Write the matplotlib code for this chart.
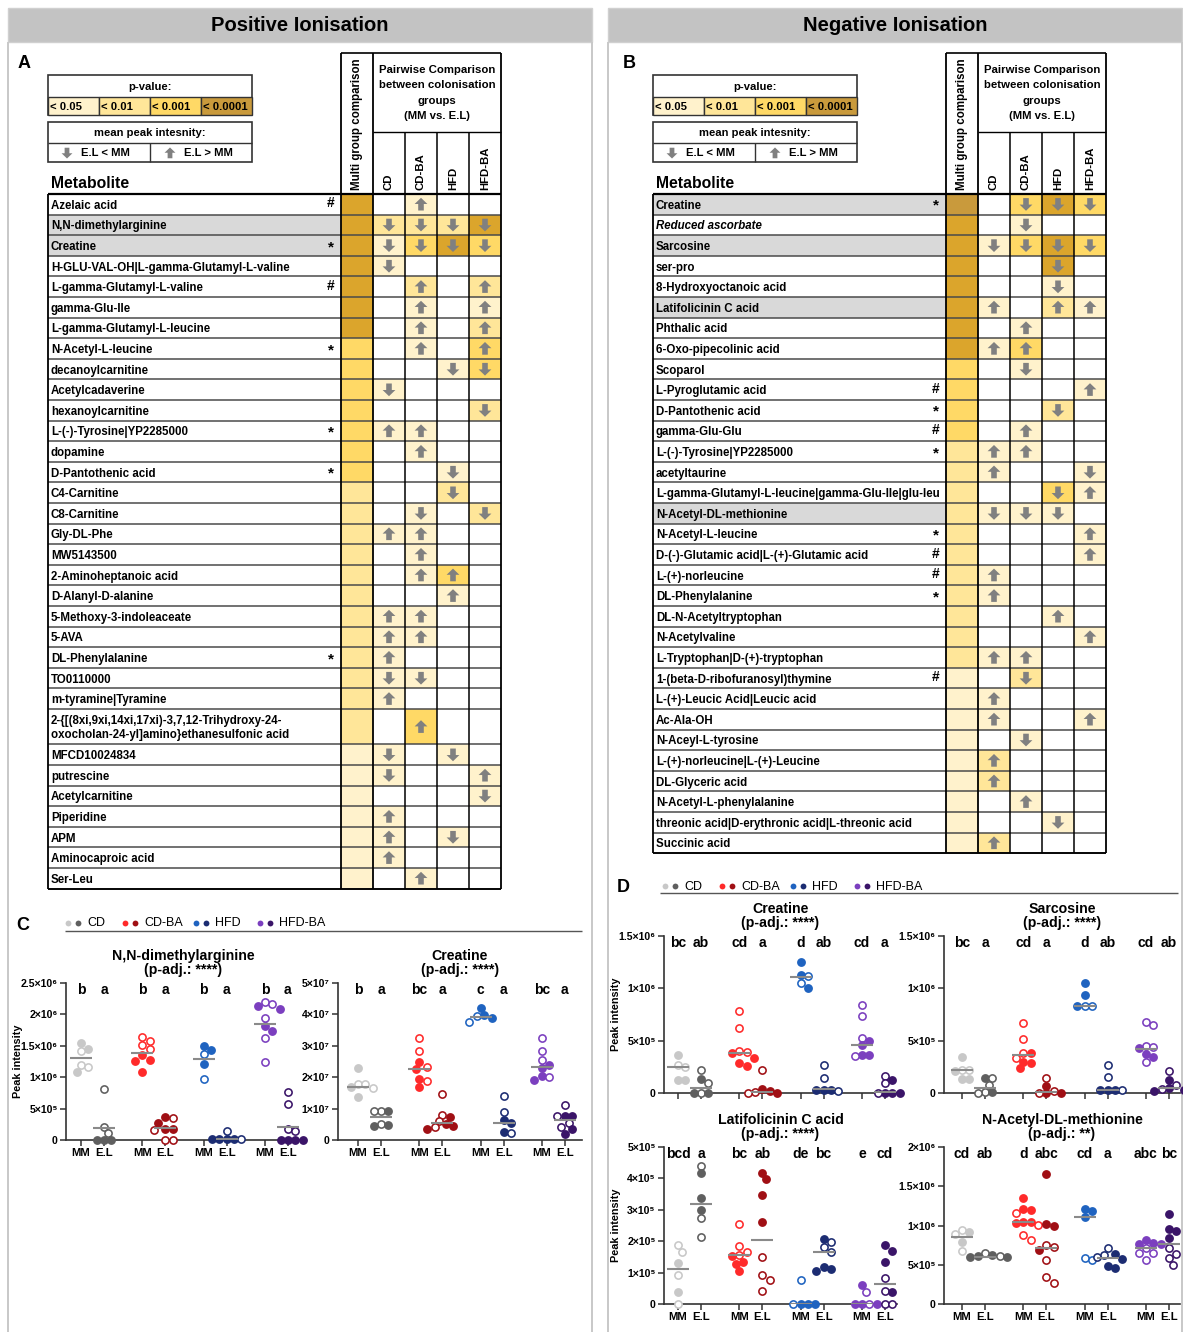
import numpy as np
import matplotlib
matplotlib.use("Agg")
import matplotlib.pyplot as plt
from matplotlib.patches import Rectangle, Polygon
from matplotlib.transforms import blended_transform_factory

plt.rcParams['font.family'] = ['Liberation Sans', 'DejaVu Sans']

W, H = 1183, 1332

# --- Table data ---------------------------------------------------------------
GROUPS = ["CD", "CD-BA", "HFD", "HFD-BA"]
P_LABELS = ["< 0.05", "< 0.01", "< 0.001", "< 0.0001"]

POS_NAMES = [
    "Azelaic acid", "N,N-dimethylarginine", "Creatine",
    "H-GLU-VAL-OH|L-gamma-Glutamyl-L-valine", "L-gamma-Glutamyl-L-valine",
    "gamma-Glu-Ile", "L-gamma-Glutamyl-L-leucine", "N-Acetyl-L-leucine",
    "decanoylcarnitine", "Acetylcadaverine", "hexanoylcarnitine",
    "L-(-)-Tyrosine|YP2285000", "dopamine", "D-Pantothenic acid",
    "C4-Carnitine", "C8-Carnitine", "Gly-DL-Phe", "MW5143500",
    "2-Aminoheptanoic acid", "D-Alanyl-D-alanine", "5-Methoxy-3-indoleaceate",
    "5-AVA", "DL-Phenylalanine", "TO0110000", "m-tyramine|Tyramine",
    "2-{[(8xi,9xi,14xi,17xi)-3,7,12-Trihydroxy-24-\noxocholan-24-yl]amino}ethanesulfonic acid",
    "MFCD10024834", "putrescine", "Acetylcarnitine", "Piperidine", "APM",
    "Aminocaproic acid", "Ser-Leu",
]
POS_MARKS = ["#", "", "*", "", "#", "", "", "*", "", "", "", "*", "", "*",
             "", "", "", "", "", "", "", "", "*", "", "", "", "", "", "", "",
             "", "", ""]
POS_GRAY = [1, 2]
POS_TALL = [25]
POS_MULTI = [4] * 7 + [3] * 7 + [2] * 12 + [1] * 7
POS_PAIRS = [
    "- u1 - -", "d2 d2 d2 d4", "d1 d3 d4 d3", "d1 - - -", "- u2 - u2",
    "- u1 - u1", "- u1 - u2", "- u1 - u3", "- - d1 d3", "d1 - - -",
    "- - - d2", "u1 u1 - -", "- u1 - -", "- - d1 -", "- - d2 -",
    "- d1 - d2", "u1 u1 - -", "- u1 - -", "- u1 u3 -", "- - u1 -",
    "u1 u1 - -", "u1 u1 - -", "u1 - - -", "d1 d1 - -", "u1 - - -",
    "- u3 - -", "d1 - d1 -", "d1 - - u1", "- - - d1", "u1 - - -",
    "u1 - d1 -", "u1 - - -", "- u1 - -",
]

NEG_NAMES = [
    "Creatine", "Reduced ascorbate", "Sarcosine", "ser-pro",
    "8-Hydroxyoctanoic acid", "Latifolicinin C acid", "Phthalic acid",
    "6-Oxo-pipecolinic acid", "Scoparol", "L-Pyroglutamic acid",
    "D-Pantothenic acid", "gamma-Glu-Glu", "L-(-)-Tyrosine|YP2285000",
    "acetyltaurine", "L-gamma-Glutamyl-L-leucine|gamma-Glu-Ile|glu-leu",
    "N-Acetyl-DL-methionine", "N-Acetyl-L-leucine",
    "D-(-)-Glutamic acid|L-(+)-Glutamic acid", "L-(+)-norleucine",
    "DL-Phenylalanine", "DL-N-Acetyltryptophan", "N-Acetylvaline",
    "L-Tryptophan|D-(+)-tryptophan", "1-(beta-D-ribofuranosyl)thymine",
    "L-(+)-Leucic Acid|Leucic acid", "Ac-Ala-OH", "N-Aceyl-L-tyrosine",
    "L-(+)-norleucine|L-(+)-Leucine", "DL-Glyceric acid",
    "N-Acetyl-L-phenylalanine",
    "threonic acid|D-erythronic acid|L-threonic acid", "Succinic acid",
]
NEG_MARKS = ["*", "", "", "", "", "", "", "", "", "#", "*", "#", "*", "", "",
             "", "*", "#", "#", "*", "", "", "", "#", "", "", "", "", "", "",
             "", ""]
NEG_GRAY = [0, 2, 5, 15]
NEG_ITALIC = [1]
NEG_MULTI = [5] + [4] * 7 + [3] * 4 + [2] * 11 + [1] * 9
NEG_PAIRS = [
    "- d3 d4 d3", "- d1 - -", "d1 d3 d4 d3", "- - d4 -", "- - d1 -",
    "u1 - u2 u1", "- u1 - -", "u1 u3 - -", "- d1 - -", "- - - u1",
    "- - d2 -", "- u1 - -", "u1 u1 - -", "u1 - - d1", "- - d3 u1",
    "d1 d1 d1 -", "- - - u1", "- - - u1", "u1 - - -", "u1 - - -",
    "- - u1 -", "- - - u1", "u1 u1 - -", "- d2 - -", "u1 - - -",
    "u1 - - u1", "- d1 - -", "u2 - - -", "u2 - - -", "- u1 - -",
    "- - d1 -", "u2 - - -",
]

# --- Scatter data (order: CD MM, CD E.L, CD-BA MM, CD-BA E.L, HFD MM, HFD E.L, HFD-BA MM, HFD-BA E.L)
NNDMA_VALUES = [  # x1e6
    [1.54, 1.45, 1.42, 1.20, 1.17, 1.09],
    [0.82, 0.21, 0.11, 0.0, 0.0, 0.0],
    [1.64, 1.57, 1.52, 1.45, 1.35, 1.27, 1.26, 1.09],
    [0.36, 0.35, 0.27, 0.18, 0.17, 0.16, 0.0, 0.0],
    [1.49, 1.44, 1.37, 1.21, 0.97],
    [0.15, 0.01, 0.01, 0.01, 0.01, 0.01],
    [2.20, 2.16, 2.13, 2.09, 1.95, 1.82, 1.73, 1.62, 1.24],
    [0.77, 0.57, 0.18, 0.14, 0.0, 0.0, 0.0, 0.0],
]
NNDMA_FILLED = [
    [1, 1, 0, 0, 0, 1], [0, 0, 0, 1, 1, 1], [0, 0, 0, 0, 1, 1, 1, 1],
    [1, 0, 1, 1, 1, 0, 0, 0], [1, 1, 0, 1, 0], [0, 1, 1, 1, 0, 1],
    [0, 0, 1, 1, 0, 1, 1, 0, 0], [0, 0, 0, 0, 1, 1, 1, 1],
]
NNDMA_CENTER = [1.31, 0.19, 1.39, 0.19, 1.29, 0.01, 1.84, 0.21]
NNDMA_LETTERS = ["b", "a", "b", "a", "b", "a", "b", "a"]

CREAT_POS_VALUES = [  # x1e7
    [2.30, 1.78, 1.78, 1.70, 1.66, 1.37],
    [0.93, 0.93, 0.93, 0.50, 0.47, 0.46],
    [3.25, 2.85, 2.47, 2.33, 2.25, 1.95, 1.88, 1.70],
    [1.47, 0.81, 0.73, 0.60, 0.52, 0.45, 0.40, 0.35],
    [4.20, 3.97, 3.95, 3.88, 3.77],
    [1.40, 0.90, 0.63, 0.55, 0.27, 0.22],
    [3.25, 2.85, 2.55, 2.40, 2.30, 2.05, 2.02, 1.92],
    [1.12, 0.75, 0.75, 0.75, 0.55, 0.40, 0.35, 0.19],
]
CREAT_POS_FILLED = [
    [1, 0, 0, 1, 0, 1], [0, 1, 0, 0, 1, 1], [0, 0, 1, 0, 1, 1, 0, 1],
    [0, 0, 1, 0, 1, 1, 0, 1], [1, 1, 0, 1, 0], [0, 0, 1, 1, 1, 0],
    [0, 0, 0, 1, 1, 1, 0, 1], [0, 1, 1, 0, 0, 0, 1, 1],
]
CREAT_POS_CENTER = [1.68, 0.72, 2.27, 0.53, 3.93, 0.55, 2.32, 0.65]
CREAT_POS_LETTERS = ["b", "a", "bc", "a", "c", "a", "bc", "a"]

CREAT_NEG_VALUES = [  # x1e6
    [0.36, 0.27, 0.25, 0.12, 0.12],
    [0.215, 0.13, 0.10, 0.0, 0.0, 0.0],
    [0.78, 0.62, 0.40, 0.39, 0.38, 0.335, 0.29, 0.255],
    [0.215, 0.04, 0.02, 0.01, 0.0, 0.0],
    [1.255, 1.13, 1.115, 1.055, 1.0],
    [0.27, 0.14, 0.03, 0.03, 0.03, 0.02],
    [0.84, 0.74, 0.53, 0.50, 0.46, 0.365, 0.36, 0.355],
    [0.165, 0.12, 0.095, 0.0, 0.0, 0.0, 0.0],
]
CREAT_NEG_FILLED = [
    [1, 0, 0, 1, 1], [0, 1, 0, 0, 1, 1], [0, 0, 0, 0, 1, 1, 1, 1],
    [0, 1, 1, 0, 1, 0], [1, 1, 0, 0, 1], [0, 0, 1, 1, 1, 0],
    [0, 0, 0, 1, 1, 1, 1, 0], [0, 1, 0, 1, 1, 0, 1],
]
CREAT_NEG_CENTER = [0.245, 0.05, 0.38, 0.01, 1.11, 0.035, 0.455, 0.005]
CREAT_NEG_LETTERS = ["bc", "ab", "cd", "a", "d", "ab", "cd", "a"]

SARC_VALUES = [  # x1e6
    [0.34, 0.22, 0.22, 0.21, 0.13, 0.13],
    [0.14, 0.14, 0.08, 0.01, 0.01, 0.0],
    [0.67, 0.52, 0.38, 0.38, 0.335, 0.30, 0.285, 0.24],
    [0.14, 0.07, 0.02, 0.0, 0.0, 0.0],
    [1.05, 0.94, 0.835, 0.835, 0.835],
    [0.27, 0.15, 0.03, 0.03, 0.03, 0.03],
    [0.68, 0.65, 0.45, 0.44, 0.43, 0.37, 0.34, 0.30],
    [0.21, 0.12, 0.08, 0.05, 0.04, 0.03, 0.02],
]
SARC_FILLED = [
    [1, 0, 0, 1, 1, 1], [1, 0, 0, 0, 1, 0], [0, 0, 0, 1, 0, 1, 1, 1],
    [0, 1, 0, 1, 0, 1], [1, 1, 0, 0, 1], [0, 0, 1, 1, 1, 0],
    [0, 0, 0, 0, 1, 1, 1, 0], [0, 1, 0, 1, 0, 1, 1],
]
SARC_CENTER = [0.22, 0.045, 0.36, 0.005, 0.835, 0.03, 0.42, 0.045]
SARC_LETTERS = ["bc", "a", "cd", "a", "d", "ab", "cd", "ab"]

LATI_VALUES = [  # x1e5
    [1.88, 1.65, 1.31, 0.92, 0.37, 0.0],
    [4.41, 4.17, 3.37, 2.98, 2.73, 2.12],
    [2.56, 1.85, 1.67, 1.56, 1.54, 1.35, 1.28, 1.04],
    [4.17, 3.97, 3.46, 2.60, 1.49, 0.92, 0.76, 0.40],
    [0.78, 0.0, 0.0, 0.0, 0.0],
    [2.06, 1.96, 1.81, 1.67, 1.19, 1.13, 1.04],
    [0.59, 0.37, 0.0, 0.0, 0.0, 0.0],
    [1.88, 1.70, 1.35, 0.84, 0.41, 0.37, 0.0, 0.0],
]
LATI_FILLED = [
    [0, 0, 1, 0, 1, 0], [0, 1, 1, 1, 0, 0], [0, 0, 0, 0, 1, 1, 1, 1],
    [1, 1, 1, 1, 0, 0, 0, 0], [0, 1, 1, 0, 1], [1, 0, 0, 0, 1, 1, 1],
    [1, 0, 1, 0, 1, 1], [1, 1, 1, 0, 0, 1, 0, 0],
]
LATI_CENTER = [1.12, 3.18, 1.55, 2.05, 0.0, 1.65, 0.0, 0.63]
LATI_LETTERS = ["bcd", "a", "bc", "ab", "de", "bc", "e", "cd"]

NACM_VALUES = [  # x1e6
    [0.94, 0.92, 0.89, 0.79, 0.68],
    [0.65, 0.62, 0.61, 0.61, 0.60, 0.60],
    [1.345, 1.21, 1.20, 1.16, 1.05, 1.04, 1.03, 1.01, 0.88, 0.81],
    [1.65, 1.025, 1.0, 0.75, 0.73, 0.69, 0.555, 0.345, 0.27],
    [1.205, 1.18, 1.11, 0.585, 0.555],
    [0.714, 0.64, 0.63, 0.60, 0.57, 0.48, 0.455],
    [0.81, 0.78, 0.765, 0.76, 0.71, 0.65, 0.65, 0.56],
    [1.15, 0.96, 0.93, 0.84, 0.71, 0.64, 0.59, 0.50],
]
NACM_FILLED = [
    [0, 1, 0, 1, 0], [0, 1, 1, 0, 1, 1], [1, 1, 1, 0, 1, 1, 1, 0, 0, 0],
    [1, 1, 1, 0, 0, 1, 0, 0, 0], [1, 1, 1, 0, 0], [0, 1, 0, 0, 1, 1, 1],
    [1, 1, 1, 1, 0, 0, 0, 0], [1, 1, 1, 1, 0, 0, 0, 0],
]
NACM_CENTER = [0.857, 0.605, 1.04, 0.714, 1.11, 0.585, 0.71, 0.77]
NACM_LETTERS = ["cd", "ab", "d", "abc", "cd", "a", "abc", "bc"]

# --- Styling -----------------------------------------------------------------
LEVEL_COLORS = {1: "#fff2cc", 2: "#ffe699", 3: "#ffd966", 4: "#dba52c", 5: "#c99a3c"}
ARROW_GRAY = "#808080"
PAIR_COLORS = [("#c8c8c8", "#5f5f5f"), ("#ff2a2a", "#a00f14"),
               ("#1f63c0", "#1c2c72"), ("#7b3fbf", "#3a1468")]
ROW_H = 20.6
TABLE_TOP = 194
FS_TAB = 8.3
SUP = str.maketrans("0123456789", "⁰¹²³⁴⁵⁶⁷⁸⁹")

fig = plt.figure(figsize=(W / 100, H / 100), dpi=100)
ax = fig.add_axes([0, 0, 1, 1])
ax.set_xlim(0, W)
ax.set_ylim(H, 0)
ax.axis("off")


def line(xs, ys, color="black", lw=1.0, z=5):
    ax.plot(xs, ys, color=color, lw=lw, zorder=z, solid_capstyle="butt")


def arrow(cx, cy, up, s=1.0):
    d = -1 if up else 1
    tip, base, tail = cy + d * 6.5 * s, cy + d * 0.3 * s, cy - d * 6.2 * s
    hw, sw = 6.4 * s, 2.8 * s
    pts = [(cx, tip), (cx + hw, base), (cx + sw, base), (cx + sw, tail),
           (cx - sw, tail), (cx - sw, base), (cx - hw, base)]
    ax.add_patch(Polygon(pts, closed=True, fc=ARROW_GRAY, ec="none", zorder=4,
                         joinstyle="round"))


def draw_header(x0, name_w, letter):
    e1 = x0 + name_w
    e2, e6 = e1 + 32, e1 + 160
    ax.text(x0 - 30, 63, letter, fontsize=13, weight="bold", va="center")
    # p-value legend
    bx = x0
    ax.add_patch(Rectangle((bx, 75), 204, 40, fc="white", ec="#333333", lw=1.2, zorder=3))
    ax.text(bx + 102, 86.5, "p-value:", ha="center", va="center", fontsize=8.1, weight="bold", zorder=6)
    for j, lab in enumerate(P_LABELS):
        cx = bx + 51 * j
        ax.add_patch(Rectangle((cx, 97), 51, 18, fc=LEVEL_COLORS[j + 1 if j < 3 else 5],
                               ec="#333333", lw=1.0, zorder=3))
        ax.text(cx + 2, 106.5, lab, va="center", fontsize=8.1, weight="bold", zorder=6)
    # mean peak intensity legend
    ax.add_patch(Rectangle((bx, 122), 204, 40, fc="white", ec="#333333", lw=1.2, zorder=3))
    line([bx, bx + 204], [143, 143], "#333333", 1.0)
    line([bx + 102, bx + 102], [143, 162], "#333333", 1.0)
    ax.text(bx + 102, 133, "mean peak intesnity:", ha="center", va="center", fontsize=8.1, weight="bold", zorder=6)
    arrow(bx + 19, 153, False, 0.85)
    ax.text(bx + 33, 153.5, "E.L < MM", va="center", fontsize=8.1, weight="bold", zorder=6)
    arrow(bx + 122, 153, True, 0.85)
    ax.text(bx + 136, 153.5, "E.L > MM", va="center", fontsize=8.1, weight="bold", zorder=6)

    ax.text(x0 + 3, 184, "Metabolite", fontsize=11.3, weight="bold", va="center")
    line([e1, e6], [53, 53], lw=1.2)
    line([e2, e6], [132, 132], lw=1.0)
    ax.text(e1 + 16, 190, "Multi group comparison", rotation=90, ha="center",
            va="bottom", fontsize=8.3, weight="bold")
    ax.text((e2 + e6) / 2, 93, "Pairwise Comparison\nbetween colonisation\ngroups\n(MM vs. E.L)",
            ha="center", va="center", fontsize=8.2, weight="bold", linespacing=1.68)
    for j, g in enumerate(GROUPS):
        ax.text(e2 + 16 + 32 * j, 190, g, rotation=90, ha="center", va="bottom",
                fontsize=8.2, weight="bold")


def draw_table(x0, name_w, names, marks, gray, italic, multi, pairs, tall):
    e1 = x0 + name_w
    e2, e6 = e1 + 32, e1 + 160
    y = TABLE_TOP
    for i, name in enumerate(names):
        h = ROW_H * (1.72 if i in tall else 1.0)
        yc = y + h / 2
        if i in gray:
            ax.add_patch(Rectangle((x0, y), name_w, h, fc="#d9d9d9", ec="none", zorder=1))
        ax.add_patch(Rectangle((e1, y), 32, h, fc=LEVEL_COLORS[multi[i]], ec="none", zorder=1))
        for j, cell in enumerate(pairs[i].split()):
            if cell == "-":
                continue
            cx0 = e2 + 32 * j
            ax.add_patch(Rectangle((cx0, y), 32, h, fc=LEVEL_COLORS[int(cell[1])], ec="none", zorder=1))
            arrow(cx0 + 16, yc, cell[0] == "u")
        ax.text(x0 + 3, yc + 1.5, name, va="center", fontsize=FS_TAB, weight="bold",
                style="italic" if i in italic else "normal", linespacing=1.2, zorder=6)
        if marks[i]:
            ax.text(x0 + name_w - 10, yc - (1 if marks[i] == "#" else -1.5), marks[i], ha="center",
                    va="center", fontsize=10 if marks[i] == "#" else 11, weight="bold", zorder=6)
        y += h
        line([x0, e6], [y, y], "#4a4a4a", 1.1)
    bottom = y
    line([x0, e6], [TABLE_TOP, TABLE_TOP], lw=1.6)
    line([x0, x0], [TABLE_TOP, bottom], lw=1.3)
    for xv in (e1, e2, e6):
        line([xv, xv], [53, bottom], lw=1.3)
    for j in (1, 2, 3):
        line([e2 + 32 * j, e2 + 32 * j], [132, bottom], lw=1.1)
    line([x0, e6], [bottom, bottom], lw=1.3)


# --- Title bands & panel frames ----------------------------------------------
for (xa, xb, title) in [(8, 592, "Positive Ionisation"), (608, 1182, "Negative Ionisation")]:
    ax.add_patch(Rectangle((xa, 8), xb - xa, 34, fc="#c3c3c3", ec="#d0d0d0", lw=1, zorder=1))
    ax.text((xa + xb) / 2, 25.5, title, ha="center", va="center", fontsize=14.5, weight="bold")
    line([xa, xa], [42, H], "#c8c8c8", 1.4)
    line([xb, xb], [42, H], "#c8c8c8", 1.4)

draw_header(48, 293, "A")
draw_table(48, 293, POS_NAMES, POS_MARKS, POS_GRAY, [], POS_MULTI, POS_PAIRS, POS_TALL)
draw_header(653, 293, "B")
draw_table(653, 293, NEG_NAMES, NEG_MARKS, NEG_GRAY, NEG_ITALIC, NEG_MULTI, NEG_PAIRS, [])


# --- Scatter panels ----------------------------------------------------------
def sci_label(v):
    if v == 0:
        return "0"
    e = int(np.floor(np.log10(v) + 1e-9))
    m = v / 10 ** e
    return f"{m:g}×10" + str(e).translate(SUP)


def swarm(vals, ppu, d=7.4):
    placed, offs = [], []
    cands = sorted({k * d / 2 for k in range(-10, 11)}, key=lambda o: (abs(o), -o))
    for v in vals:
        py = v * ppu
        for o in cands:
            if all((o - px) ** 2 + (py - qy) ** 2 >= (d * 0.98) ** 2 for px, qy in placed):
                break
        placed.append((o, py))
        offs.append(o)
    return offs


def scatter_panel(left, right, y0, ytop, first, values, filled, centers, letters,
                  scale, top, tick_step, title, xlabels=True, ylabel=False):
    fax = fig.add_axes([left / W, 1 - y0 / H, (right - left) / W, (y0 - ytop) / H])
    unit, step = 23.0, 61.3 / 23.0
    fax.set_xlim((left - first) / unit, (right - first) / unit)
    fax.set_ylim(0, top)
    ppu = (y0 - ytop) / top
    xs = []
    tr = blended_transform_factory(fax.transData, fax.transAxes)
    for gi in range(8):
        g, k = divmod(gi, 2)
        xc = g * step + k
        xs.append(xc)
        color = PAIR_COLORS[g][k]
        for v, f, o in zip(values[gi], filled[gi], swarm(values[gi], ppu)):
            fax.plot(xc + o / unit, v, "o", ms=5.2, mfc=color if f else "white",
                     mec=color, mew=1.15, clip_on=False, zorder=3)
        fax.plot([xc - 0.48, xc + 0.48], [centers[gi]] * 2, color="#8a8a8a", lw=1.5,
                 zorder=4, solid_capstyle="butt")
        fax.text(xc, 1 - 7 / (y0 - ytop), letters[gi], transform=tr, ha="center",
                 va="center", fontsize=10, weight="bold")
    ticks = np.arange(0, top + tick_step / 2, tick_step)
    fax.set_yticks(ticks)
    fax.set_yticklabels([sci_label(t * scale) for t in ticks], fontsize=7.6, weight="bold")
    fax.set_xticks(xs)
    fax.set_xticklabels(["MM", "E.L"] * 4 if xlabels else [""] * 8, fontsize=8.2, weight="bold")
    for s in ("top", "right"):
        fax.spines[s].set_visible(False)
    for s in ("left", "bottom"):
        fax.spines[s].set_linewidth(1.2)
        fax.spines[s].set_color("#333333")
    fax.tick_params(length=4, width=1.1, color="#333333", pad=2)
    fax.patch.set_alpha(0)
    fax.text(0.5, 1 + 6 / (y0 - ytop), title, transform=fax.transAxes, ha="center",
             va="bottom", fontsize=10.2, weight="bold", linespacing=1.0)
    if ylabel:
        ax.text(left - 48, (y0 + ytop) / 2, "Peak intensity", rotation=90, ha="center",
                va="center", fontsize=7.8, weight="bold")
    return fax


def legend_row(x, y, gaps):
    for (ca, cb), g, lab in zip(PAIR_COLORS, gaps, GROUPS):
        ax.plot(x, y, "o", ms=4.2, color=ca, mec="none")
        ax.plot(x + 10, y, "o", ms=4.2, color=cb, mec="none")
        ax.text(x + 19, y + 0.5, lab, va="center", fontsize=9)
        x += g


ax.text(16, 925, "C", fontsize=13, weight="bold", va="center")
legend_row(68, 923, [57, 71, 64, 0])
line([65, 582], [931, 931], "#555555", 1.0)
ax.text(617, 888, "D", fontsize=13, weight="bold", va="center")
legend_row(665, 886, [57, 71, 64, 0])
line([660, 1178], [893, 893], "#555555", 1.0)

scatter_panel(66, 300, 1140, 983, 81, NNDMA_VALUES, NNDMA_FILLED, NNDMA_CENTER,
              NNDMA_LETTERS, 1e6, 2.5, 0.5, "N,N-dimethylarginine\n(p-adj.: ****)", ylabel=True)
scatter_panel(338, 582, 1140, 983, 358, CREAT_POS_VALUES, CREAT_POS_FILLED, CREAT_POS_CENTER,
              CREAT_POS_LETTERS, 1e7, 5, 1, "Creatine\n(p-adj.: ****)")
scatter_panel(664, 897, 1093, 936, 678, CREAT_NEG_VALUES, CREAT_NEG_FILLED, CREAT_NEG_CENTER,
              CREAT_NEG_LETTERS, 1e6, 1.5, 0.5, "Creatine\n(p-adj.: ****)", xlabels=False, ylabel=True)
scatter_panel(944, 1180, 1093, 936, 962, SARC_VALUES, SARC_FILLED, SARC_CENTER,
              SARC_LETTERS, 1e6, 1.5, 0.5, "Sarcosine\n(p-adj.: ****)", xlabels=False)
scatter_panel(664, 897, 1304, 1147, 678, LATI_VALUES, LATI_FILLED, LATI_CENTER,
              LATI_LETTERS, 1e5, 5, 1, "Latifolicinin C acid\n(p-adj.: ****)", ylabel=True)
scatter_panel(944, 1180, 1304, 1147, 962, NACM_VALUES, NACM_FILLED, NACM_CENTER,
              NACM_LETTERS, 1e6, 2, 0.5, "N-Acetyl-DL-methionine\n(p-adj.: **)")

fig.savefig("out.png", dpi=100)
